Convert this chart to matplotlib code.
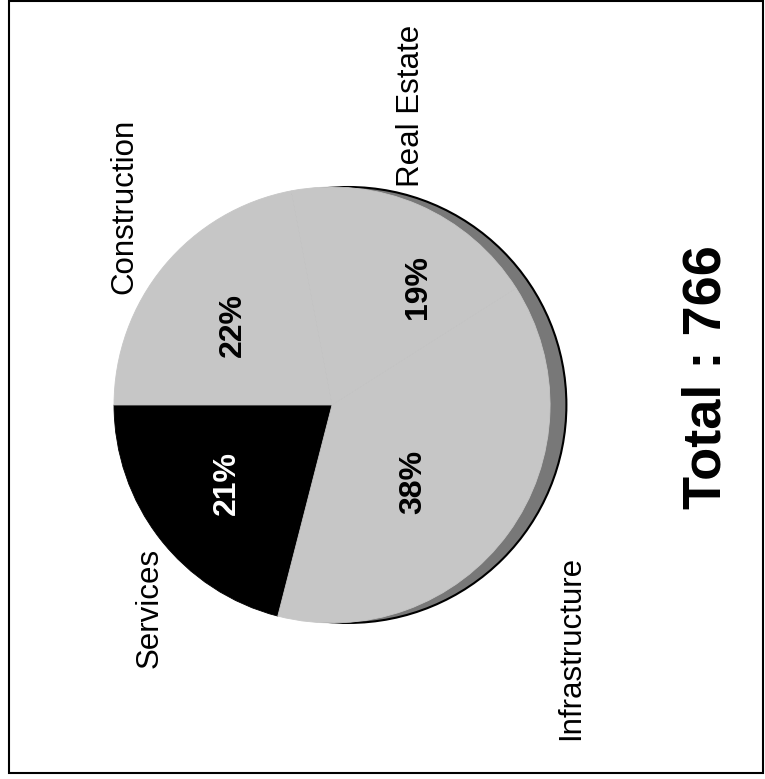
import matplotlib
matplotlib.use("Agg")
import matplotlib.pyplot as plt
import matplotlib.patches as mpatches

# データ (反時計回り, 180度から)
categories = ["Services", "Infrastructure", "Real Estate", "Construction"]
shares = [21, 38, 19, 22]
total = 766

COLORS = ["#000000", "#c6c6c6", "#c6c6c6", "#c6c6c6"]
PCT_COLORS = ["#ffffff", "#000000", "#000000", "#000000"]
RIM = "#787878"
FONT = "Liberation Sans"

# ラベル位置 (円の半径=1)
PCT_POS = [(-0.482, -0.358), (0.372, -0.353), (0.394, 0.541), (-0.454, 0.367)]
LABEL_POS = [(-0.835, -0.931), (1.096, -1.115), (0.362, 1.372), (-0.954, 0.913)]

fig = plt.figure(figsize=(7.65, 7.79), dpi=100)
fig.patch.set_facecolor("white")
ax = fig.add_axes([0, 0, 1, 1])

# 3D の側面 (右側にずらした円)
ax.add_patch(mpatches.Circle((0.075, 0.0), 1.0, facecolor=RIM,
                             edgecolor="black", linewidth=1.5, zorder=1))

wedges, texts, autotexts = ax.pie(
    shares, colors=COLORS, startangle=180, counterclock=True,
    autopct=lambda p: f"{p:.0f}%", pctdistance=0.6,
    wedgeprops=dict(linewidth=0, edgecolor="none"),
)
for w, c in zip(wedges, COLORS):
    w.set_zorder(2)
    # 隣り合う灰色スライスの継ぎ目を消す
    w.set_edgecolor(c)
    w.set_linewidth(0.6)

for t, pos, c in zip(autotexts, PCT_POS, PCT_COLORS):
    t.set_position(pos)
    t.set_rotation(90)
    t.set_color(c)
    t.set_fontsize(23)
    t.set_fontweight("bold")
    t.set_family(FONT)
    t.set_ha("center")
    t.set_va("center")
    t.set_zorder(3)

for name, pos in zip(categories, LABEL_POS):
    ax.text(pos[0], pos[1], name, rotation=90, ha="center", va="center",
            fontsize=22.5, family=FONT, color="black")

ax.text(1.716, 0.128, f"Total : {total}", rotation=90, ha="center", va="center",
        fontsize=39, fontweight="bold", family=FONT, color="black")

ax.set_aspect("auto")
ax.set_xlim(-1.523, 1.986)
ax.set_ylim(-1.716, 1.858)
ax.axis("off")

# 外枠
fig.patches.append(mpatches.Rectangle(
    (9 / 765, 6 / 779), 754 / 765, 772 / 779,
    transform=fig.transFigure, fill=False, edgecolor="black", linewidth=1.5,
))

fig.savefig("out.png", dpi=100, facecolor="white")
